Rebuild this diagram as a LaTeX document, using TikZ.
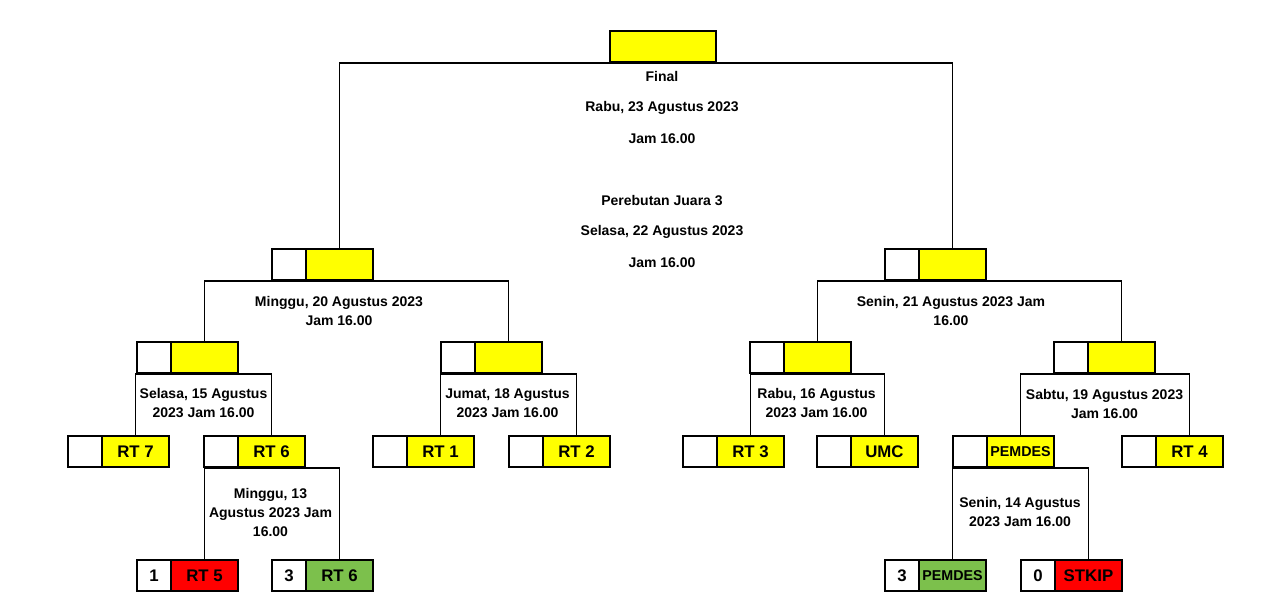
\documentclass[tikz,border=0pt]{standalone}
\usepackage{fontspec}
\setmainfont{Liberation Sans}
\definecolor{cyellow}{RGB}{255,255,0}
\definecolor{cred}{RGB}{255,0,0}
\definecolor{cgreen}{RGB}{124,192,76}
\tikzset{
  box/.style={draw=black, line width=1.45pt, minimum height=23.25pt, inner sep=0pt, anchor=north west, font=\bfseries\fontsize{12.6}{14}\selectfont},
  scorebox/.style={box, fill=white, minimum width=25.5pt},
  teambox/.style={box, minimum width=50.25pt},
  info/.style={font=\bfseries\fontsize{10.5}{14.25}\selectfont, align=center, inner sep=0pt},
  link/.style={line width=1.45pt, draw=black},
  smallname/.style={font=\bfseries\fontsize{10.7}{12}\selectfont}
}
\newcommand\mkpair[7][]{%
  \node[scorebox] (#2s) at (#3,#4) {#5};
  \node[teambox, fill=#7, #1] (#2) at (#3+34,#4) {#6};
}
\begin{document}
\begin{tikzpicture}[x=0.75pt, y=-0.75pt]
\useasboundingbox[fill=white] (0,0) rectangle (1280,609);

% connector anchors need nodes first
% final
\node[box, fill=cyellow, minimum width=79.5pt] (final) at (609,30) {};

% semifinals
\mkpair{semiL}{271}{248}{}{}{cyellow}
\mkpair{semiR}{884}{248}{}{}{cyellow}

% quarterfinals
\mkpair{qfLa}{136}{341}{}{}{cyellow}
\mkpair{qfLb}{440}{341}{}{}{cyellow}
\mkpair{qfRa}{749}{341}{}{}{cyellow}
\mkpair{qfRb}{1053}{341}{}{}{cyellow}

% round of teams
\mkpair{rtseven}{67}{435}{}{RT 7}{cyellow}
\mkpair{rtsix}{203}{435}{}{RT 6}{cyellow}
\mkpair{rtone}{372}{435}{}{RT 1}{cyellow}
\mkpair{rttwo}{508}{435}{}{RT 2}{cyellow}
\mkpair{rtthree}{682}{435}{}{RT 3}{cyellow}
\mkpair{umc}{816}{435}{}{UMC}{cyellow}
\mkpair[smallname]{pemdes}{952}{435}{}{PEMDES}{cyellow}
\mkpair{rtfour}{1121}{435}{}{RT 4}{cyellow}

% first round
\mkpair{rtfive}{136}{559}{1}{RT 5}{cred}
\mkpair{rtsixb}{271}{559}{3}{RT 6}{cgreen}
\mkpair[smallname]{pemdesb}{884}{559}{3}{PEMDES}{cgreen}
\mkpair{stkip}{1020}{559}{0}{STKIP}{cred}

% connectors
\draw[link] (semiL.north) |- (final.south) -| (semiR.north);
\draw[link] (qfLa.north) |- (semiL.south) -| (qfLb.north);
\draw[link] (qfRa.north) |- (semiR.south) -| (qfRb.north);
\draw[link] (rtseven.north) |- (qfLa.south) -| (rtsix.north);
\draw[link] (rtone.north) |- (qfLb.south) -| (rttwo.north);
\draw[link] (rtthree.north) |- (qfRa.south) -| (umc.north);
\draw[link] (pemdes.north) |- (qfRb.south) -| (rtfour.north);
\draw[link] (rtfive.north) |- (rtsix.south) -| (rtsixb.north);
\draw[link] (pemdesb.north) |- (pemdes.south) -| (stkip.north);

% texts
\node[info] (tfinal) at (662,77) {Final};
\node[info] (tfinald) at (662,108) {Rabu, 23 Agustus 2023};
\node[info] (tfinalj) at (662,139) {Jam 16.00};
\node[info] (tthird) at (662,201) {Perebutan Juara 3};
\node[info] (tthirdd) at (662,232) {Selasa, 22 Agustus 2023};
\node[info] (tthirdj) at (662,263) {Jam 16.00};

\node[info] (tsemiL) at (339,310.5) {Minggu, 20 Agustus 2023\\Jam 16.00};
\node[info] (tsemiR) at (951,310.5) {Senin, 21 Agustus 2023 Jam\\16.00};

\node[info] (tqfLa) at (203.5,403.5) {Selasa, 15 Agustus\\2023 Jam 16.00};
\node[info] (tqfLb) at (507.5,403.5) {Jumat, 18 Agustus\\2023 Jam 16.00};
\node[info] (tqfRa) at (816.5,403.5) {Rabu, 16 Agustus\\2023 Jam 16.00};
\node[info] (tqfRb) at (1104.5,403.5) {Sabtu, 19 Agustus 2023\\Jam 16.00};

\node[info] (tr16L) at (270.5,512.5) {Minggu, 13\\Agustus 2023 Jam\\16.00};
\node[info] (tr16R) at (1020,512.5) {Senin, 14 Agustus\\2023 Jam 16.00};
\end{tikzpicture}
\end{document}
